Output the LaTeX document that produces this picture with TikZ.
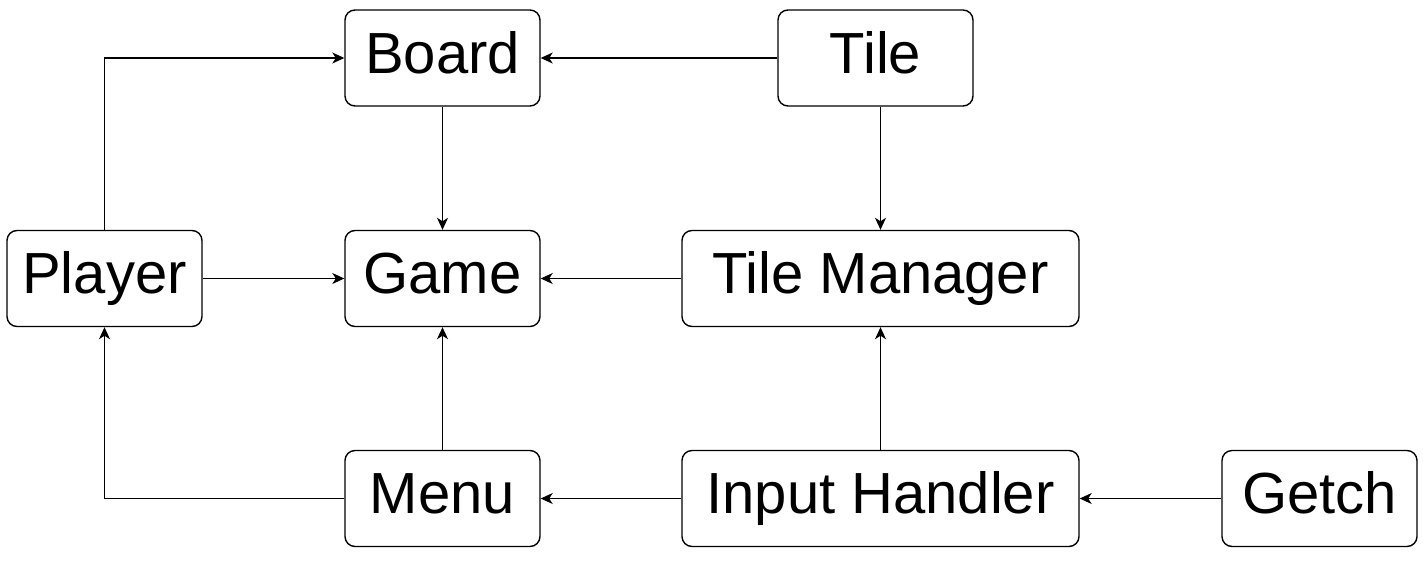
\documentclass[tikz,border=0pt]{standalone}
\usepackage{fontspec}
\setmainfont{Liberation Sans}
\usetikzlibrary{arrows.meta, positioning}

\tikzset{
    block/.style={draw, thick, rounded corners=0.2cm, minimum width=3.9cm, minimum height=1.92cm,
        font=\fontsize{33}{40}\selectfont, inner sep=0pt, text height=23.8pt, text depth=6.6pt},
    wideblock/.style={block, minimum width=7.94cm},
    link/.style={-{Stealth[length=0.24cm, width=0.22cm, inset=0.07cm]}, semithick}
}

\begin{document}
\begin{tikzpicture}
    \useasboundingbox (0,0) rectangle (28.46,-11.22);

    % top row
    \node[block] (board) at (8.85,-1.16) {Board};
    \node[block] (tile) at (17.51,-1.16) {Tile};

    % middle row
    \node[block] (player) at (2.09,-5.57) {Player};
    \node[block] (game) at (8.85,-5.57) {Game};
    \node[wideblock] (tman) at (17.61,-5.57) {Tile Manager};

    % bottom row
    \node[block] (menu) at (8.85,-9.97) {Menu};
    \node[wideblock] (input) at (17.61,-9.97) {Input Handler};
    \node[block] (getch) at (26.39,-9.97) {Getch};

    % connections
    \draw[link] (player.north) |- (board.west);
    \draw[link] (tile.west) -- (board.east);
    \draw[link] (board.south) -- (game.north);
    \draw[link] (tman.north |- tile.south) -- (tman.north);
    \draw[link] (player.east) -- (game.west);
    \draw[link] (tman.west) -- (game.east);
    \draw[link] (menu.north) -- (game.south);
    \draw[link] (input.north) -- (tman.south);
    \draw[link] (menu.west) -| (player.south);
    \draw[link] (input.west) -- (menu.east);
    \draw[link] (getch.west) -- (input.east);
\end{tikzpicture}
\end{document}
